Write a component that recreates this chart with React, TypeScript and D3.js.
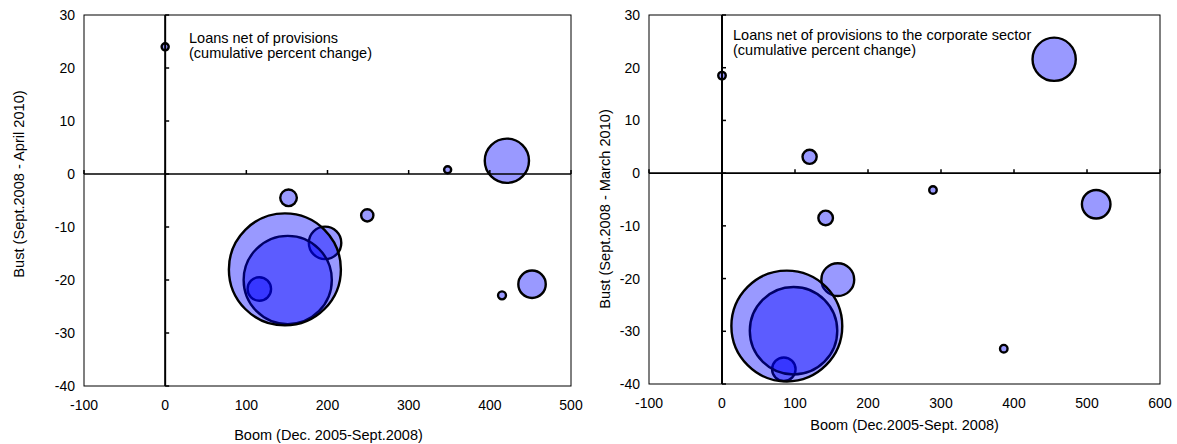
import React from 'react';
import * as d3 from 'd3';

// ---------- data ----------
const yTicks = [-40, -30, -20, -10, 0, 10, 20, 30];
const xTicksLeft = [-100, 0, 100, 200, 300, 400, 500];
const xTicksRight = [-100, 0, 100, 200, 300, 400, 500, 600];

const leftBoom = [0, 348, 421, 152, 249, 147.5, 151, 197, 116, 452, 415];
const leftBust = [24, 0.8, 2.5, -4.5, -7.8, -18, -20, -13, -21.7, -20.8, -22.9];
const leftSize = [0.4, 0.4, 15.6, 2.2, 1.2, 100, 62, 8.4, 4.4, 6.0, 0.5];

const rightBoom = [0, 120, 455, 289, 512.6, 142, 158.6, 88.8, 98, 84.7, 386];
const rightBust = [18.5, 3.1, 21.6, -3.2, -5.9, -8.5, -20.2, -29, -29.9, -37.2, -33.3];
const rightSize = [0.45, 1.6, 14.9, 0.45, 6.5, 1.7, 8.6, 98, 61, 4.4, 0.45];

const leftNote = ['Loans net of provisions', '(cumulative percent change)'];
const rightNote = ['Loans net of provisions to the corporate sector', '(cumulative percent change)'];

const FONT = "'Liberation Sans', Arial, sans-serif";

type PanelProps = {
  x0: number; x1: number; y0: number; y1: number;
  xDomain: [number, number];
  xTicks: number[];
  boom: number[]; bust: number[]; size: number[];
  note: string[]; noteX: number; noteY: number;
  xTitle: string; xTitleX: number; xTitleY: number;
  yTitle: string; yTitleX: number; yTitleY: number;
};

const rScale = d3.scaleSqrt().domain([0, 100]).range([0, 56]);

function Panel(p: PanelProps) {
  const x = d3.scaleLinear().domain(p.xDomain).range([p.x0, p.x1]);
  const y = d3.scaleLinear().domain([-40, 30]).range([p.y1, p.y0]);
  const idx = d3.range(p.boom.length).sort((a, b) => p.size[a] - p.size[b]);
  const zx = x(0);
  const zy = y(0);
  return (
    <g>
      <rect x={p.x0} y={p.y0} width={p.x1 - p.x0} height={p.y1 - p.y0} fill="#fff" stroke="#000" strokeWidth={1} />
      {idx.map((i) => (
        <circle key={i} cx={x(p.boom[i])} cy={y(p.bust[i])} r={rScale(p.size[i])}
          fill="#0000ff" fillOpacity={0.4} stroke="#000" strokeWidth={2.4} />
      ))}
      {/* zero axes */}
      <line x1={zx} x2={zx} y1={p.y0} y2={p.y1} stroke="#000" strokeWidth={2} />
      <line x1={p.x0} x2={p.x1} y1={zy} y2={zy} stroke="#000" strokeWidth={1.6} />
      {yTicks.map((t) => (
        <line key={'yt' + t} x1={zx} x2={zx + 4} y1={y(t)} y2={y(t)} stroke="#000" strokeWidth={1.5} />
      ))}
      {p.xTicks.map((t) => (
        <line key={'xt' + t} x1={x(t)} x2={x(t)} y1={zy} y2={zy - 4} stroke="#000" strokeWidth={1.5} />
      ))}
      {yTicks.map((t) => (
        <text key={'yl' + t} x={p.x0 - 9} y={y(t) + 5} textAnchor="end" fontSize={14} fontFamily={FONT}>{t}</text>
      ))}
      {p.xTicks.map((t) => (
        <text key={'xl' + t} x={x(t)} y={p.y1 + 24} textAnchor="middle" fontSize={14} fontFamily={FONT}>{t}</text>
      ))}
      {p.note.map((s, i) => (
        <text key={'n' + i} x={p.noteX} y={p.noteY + i * 15} fontSize={14.5} fontFamily={FONT}>{s}</text>
      ))}
      <text x={p.xTitleX} y={p.xTitleY} textAnchor="middle" fontSize={14.5} fontFamily={FONT}>{p.xTitle}</text>
      <text transform={`translate(${p.yTitleX},${p.yTitleY}) rotate(-90)`} textAnchor="middle" fontSize={14.6} fontFamily={FONT}>{p.yTitle}</text>
    </g>
  );
}

export default function App() {
  return (
    <svg width={1177} height={444} style={{ position: 'absolute', left: 0, top: 0, background: '#fff' }}>
      <rect width={1177} height={444} fill="#fff" />
      <Panel x0={84} x1={571} y0={15} y1={386} xDomain={[-100, 500]} xTicks={xTicksLeft}
        boom={leftBoom} bust={leftBust} size={leftSize}
        note={leftNote} noteX={189} noteY={42.5}
        xTitle="Boom (Dec. 2005-Sept.2008)" xTitleX={328.5} xTitleY={440}
        yTitle="Bust (Sept.2008 - April  2010)" yTitleX={24} yTitleY={184} />
      <Panel x0={649} x1={1160} y0={15} y1={384} xDomain={[-100, 600]} xTicks={xTicksRight}
        boom={rightBoom} bust={rightBust} size={rightSize}
        note={rightNote} noteX={733} noteY={40}
        xTitle="Boom (Dec.2005-Sept. 2008)" xTitleX={904.6} xTitleY={430}
        yTitle="Bust (Sept.2008 - March 2010)" yTitleX={610} yTitleY={209} />
    </svg>
  );
}
